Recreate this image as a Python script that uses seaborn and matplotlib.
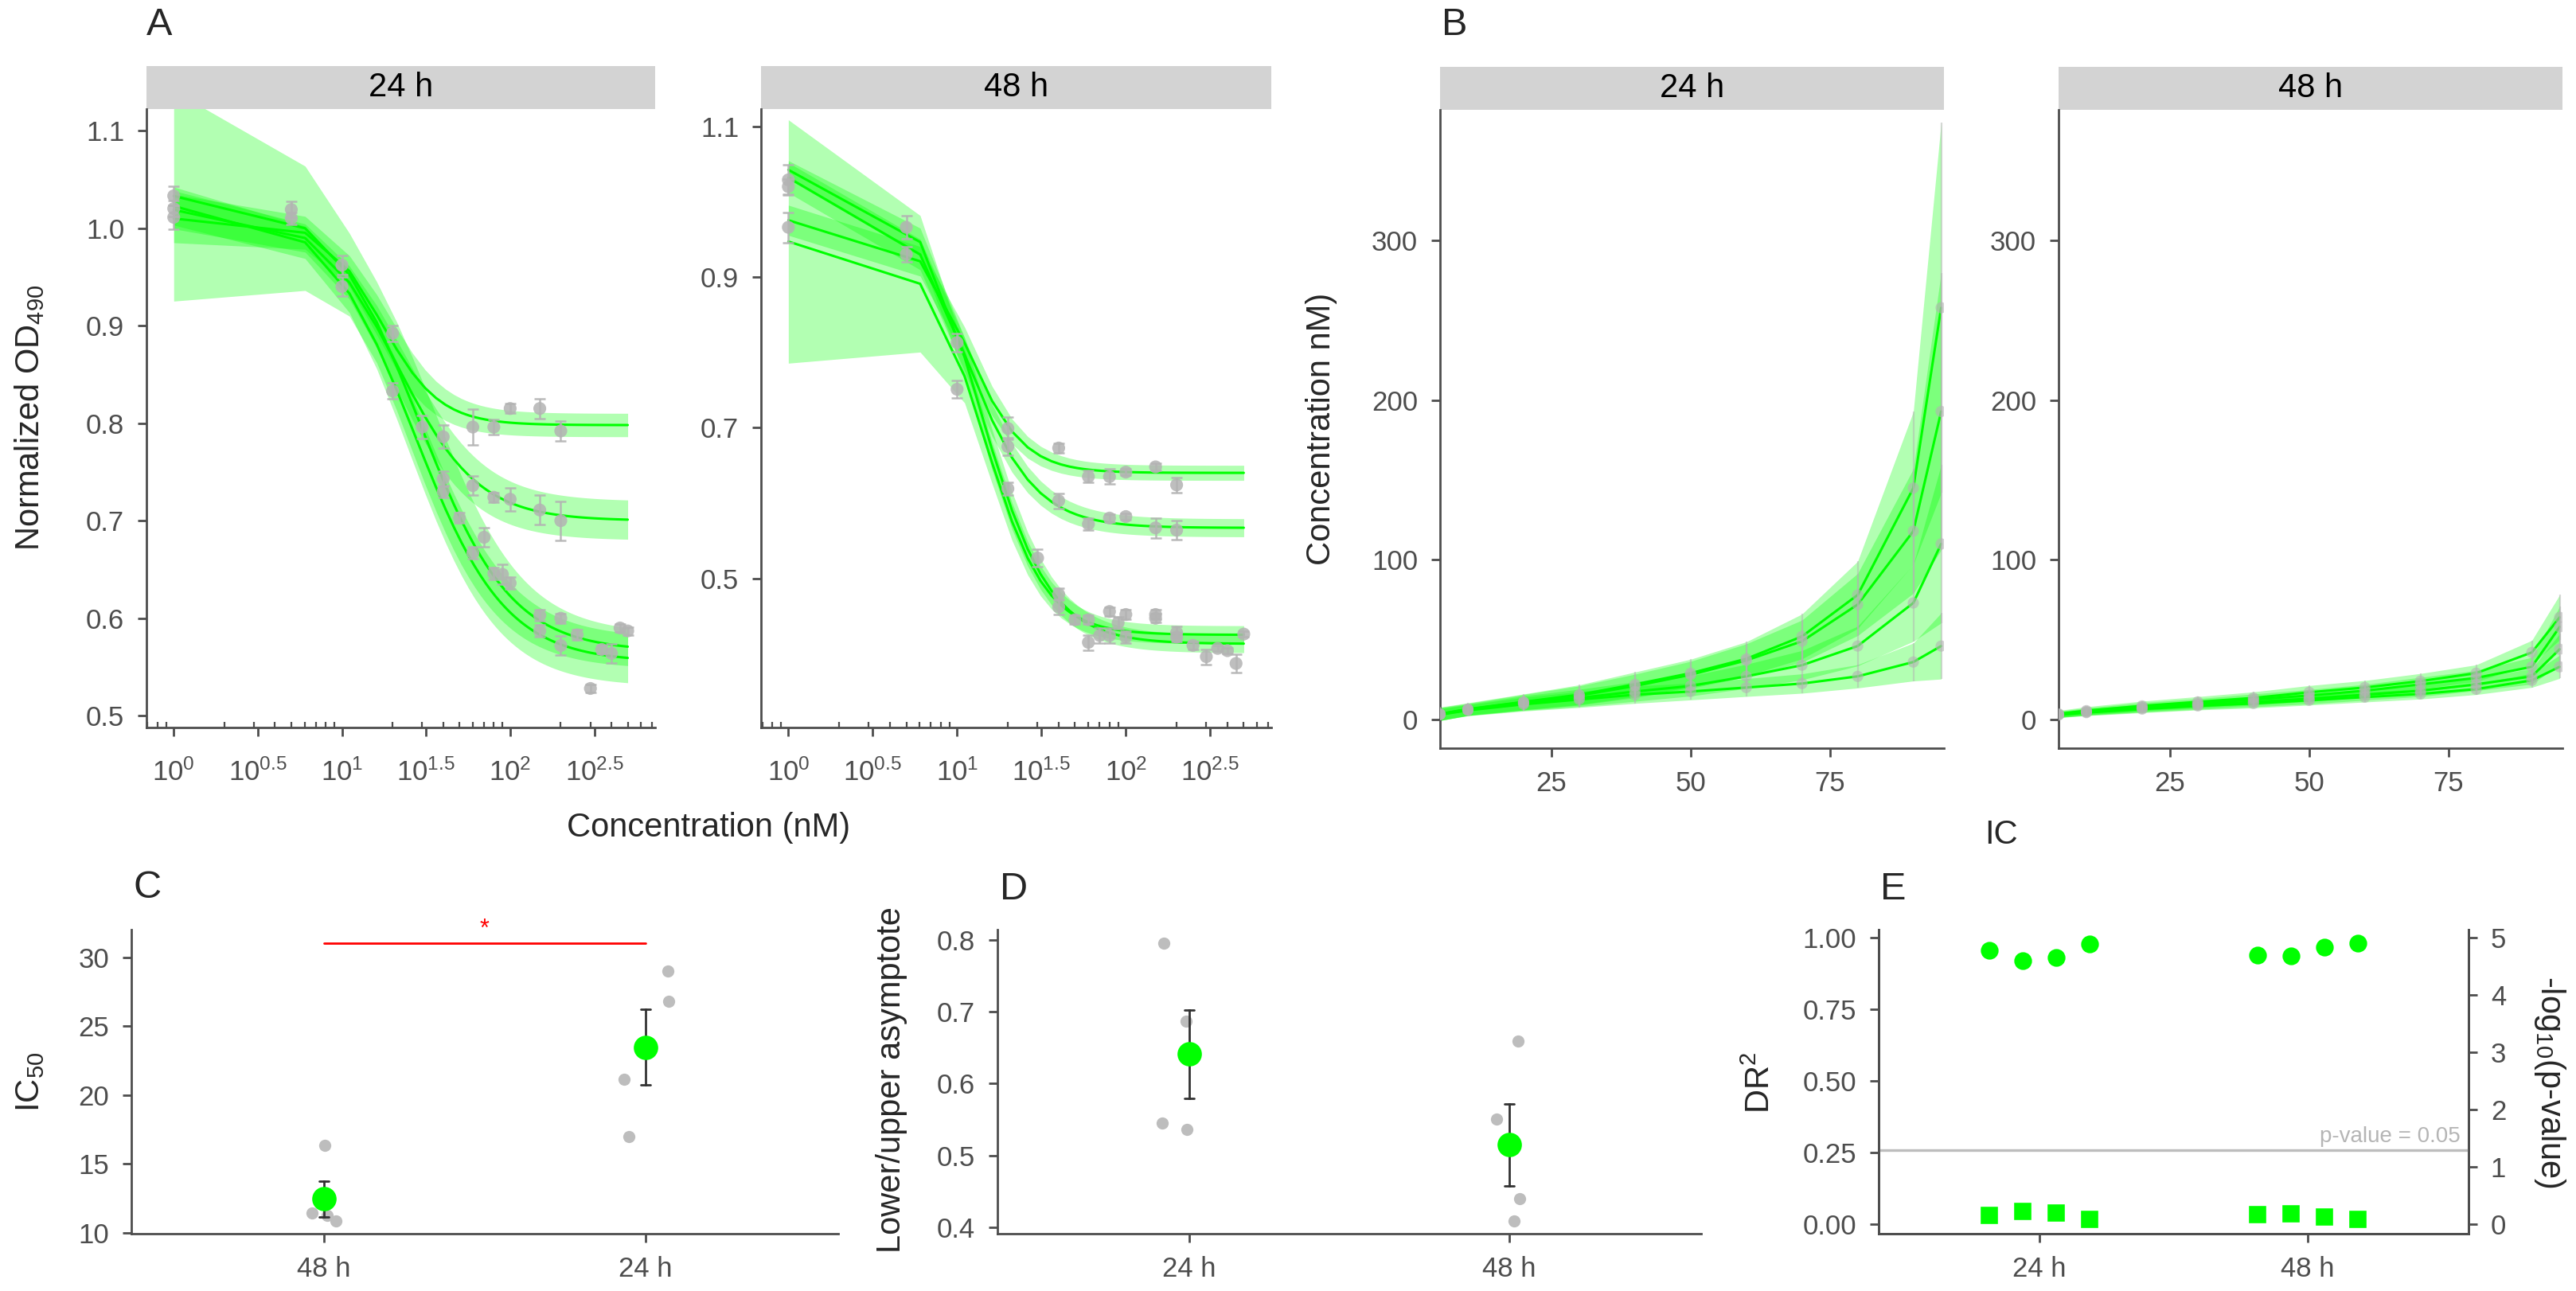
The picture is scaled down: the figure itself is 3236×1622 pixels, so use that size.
import numpy as np
import pandas as pd
import matplotlib
matplotlib.use("Agg")
import matplotlib.pyplot as plt
import seaborn as sns
from matplotlib.patches import Rectangle
from matplotlib.ticker import FixedLocator, LogLocator, NullFormatter

# ------------------------------------------------------------------ data
times = ["24 h", "48 h"]

# A: observed normalized OD490 (mean +/- se) per concentration
conc_24 = [1, 1, 1, 5, 5, 10, 10, 20, 20, 30, 40, 40, 40, 50, 60, 60, 60, 70, 80, 80, 80, 90,
           100, 100, 100, 150, 150, 150, 150, 200, 200, 200, 200, 250, 300, 350, 400, 450, 500]
od_24 = [1.033, 1.011, 1.020, 1.019, 1.010, 0.962, 0.940, 0.892, 0.833, 0.796, 0.786, 0.743,
         0.730, 0.703, 0.796, 0.736, 0.667, 0.683, 0.796, 0.724, 0.646, 0.645, 0.815, 0.722,
         0.636, 0.815, 0.711, 0.603, 0.587, 0.792, 0.700, 0.600, 0.572, 0.583, 0.528, 0.568,
         0.564, 0.590, 0.587]
se_24 = [0.010, 0.012, 0.008, 0.008, 0.006, 0.010, 0.010, 0.008, 0.008, 0.012, 0.012, 0.008,
         0.006, 0.005, 0.018, 0.010, 0.006, 0.010, 0.008, 0.005, 0.006, 0.010, 0.005, 0.012,
         0.006, 0.010, 0.015, 0.006, 0.006, 0.010, 0.020, 0.005, 0.010, 0.005, 0.004, 0.004,
         0.010, 0.004, 0.004]

conc_48 = [1, 1, 1, 5, 5, 10, 10, 20, 20, 20, 30, 40, 40, 40, 40, 50, 60, 60, 60, 60, 70,
           80, 80, 80, 80, 90, 100, 100, 100, 100, 150, 150, 150, 150, 200, 200, 200, 200,
           250, 300, 350, 400, 450, 500]
od_48 = [1.029, 0.966, 1.020, 0.966, 0.930, 0.813, 0.751, 0.699, 0.675, 0.619, 0.527, 0.673,
         0.603, 0.479, 0.462, 0.445, 0.635, 0.572, 0.445, 0.415, 0.424, 0.635, 0.580, 0.456,
         0.424, 0.441, 0.641, 0.582, 0.452, 0.422, 0.648, 0.567, 0.452, 0.447, 0.624, 0.564,
         0.428, 0.422, 0.411, 0.396, 0.407, 0.404, 0.387, 0.426]
se_48 = [0.020, 0.020, 0.010, 0.015, 0.010, 0.012, 0.012, 0.015, 0.012, 0.008, 0.012, 0.006,
         0.010, 0.008, 0.010, 0.006, 0.008, 0.008, 0.006, 0.010, 0.010, 0.010, 0.005, 0.006,
         0.010, 0.008, 0.004, 0.004, 0.006, 0.008, 0.005, 0.013, 0.006, 0.006, 0.010, 0.013,
         0.008, 0.006, 0.005, 0.010, 0.004, 0.004, 0.012, 0.004]

# A: four-parameter log-logistic fits, one per replicate
top_24 = [1.010, 1.020, 1.035, 1.025]
bottom_24 = [0.798, 0.700, 0.566, 0.555]
ec50_24 = [17.0, 21.2, 29.0, 26.8]
hill_24 = [2.5, 1.8, 1.6, 1.6]
top_48 = [0.976, 1.035, 0.948, 1.045]
bottom_48 = [0.640, 0.567, 0.425, 0.413]
ec50_48 = [11.3, 10.9, 14.5, 13.5]
hill_48 = [2.6, 2.1, 2.4, 2.1]

# A: confidence band half-widths (low dose, decay, transition, high dose)
band_lo_24 = [0.025, 0.020, 0.112, 0.020]
band_k_24 = [10, 10, 10, 10]
band_mid_24 = [0.015, 0.015, 0.040, 0.020]
band_hi_24 = [0.012, 0.020, 0.018, 0.025]
band_lo_48 = [0.020, 0.020, 0.163, 0.012]
band_k_48 = [4, 4, 6, 4]
band_mid_48 = [0.015, 0.015, 0.020, 0.020]
band_hi_48 = [0.010, 0.012, 0.012, 0.012]

# B: effective concentrations (nM) by inhibition level
pct = [5, 10, 20, 30, 40, 50, 60, 70, 80, 90, 95]
ed24_r1 = [3.5, 6.5, 11.0, 15.5, 22.0, 29.0, 38.0, 52.0, 78.0, 145.0, 258.0]
ed24_r2 = [3.4, 6.3, 10.8, 15.0, 21.0, 28.0, 37.0, 49.0, 72.0, 118.0, 193.0]
ed24_r3 = [3.2, 6.0, 10.2, 13.5, 17.5, 21.0, 27.0, 34.0, 46.0, 73.0, 110.0]
ed24_r4 = [3.0, 5.7, 9.5, 12.5, 15.5, 17.5, 20.0, 22.5, 27.0, 36.0, 46.0]
ed48_r1 = [3.5, 5.5, 8.5, 11.0, 13.5, 17.0, 20.0, 24.0, 29.0, 42.0, 64.0]
ed48_r2 = [3.2, 5.0, 7.8, 10.0, 12.5, 15.0, 18.0, 22.0, 26.0, 33.0, 58.0]
ed48_r3 = [3.0, 4.6, 7.0, 9.0, 11.0, 13.0, 15.5, 18.0, 22.0, 27.0, 44.0]
ed48_r4 = [2.8, 4.3, 6.5, 8.5, 10.0, 12.0, 14.0, 16.0, 19.0, 24.5, 33.0]
ed_rel_24 = [1.2, 0.6, 0.45, 0.40, 0.35, 0.30, 0.28, 0.27, 0.27, 0.33, 0.45]
ed_rel_48 = [0.6, 0.45, 0.35, 0.30, 0.28, 0.25, 0.22, 0.20, 0.18, 0.18, 0.22]

# C / D / E: per replicate summaries
ic50_48 = [11.25, 10.83, 11.41, 16.35]
ic50_24 = [29.0, 26.78, 21.13, 16.98]
asym_24 = [0.795, 0.687, 0.545, 0.536]
asym_48 = [0.659, 0.550, 0.440, 0.409]
dr2_24 = [0.958, 0.920, 0.933, 0.979]
dr2_48 = [0.940, 0.938, 0.968, 0.981]
nlogp_24 = [0.150, 0.227, 0.190, 0.088]
nlogp_48 = [0.175, 0.180, 0.124, 0.088]

# ------------------------------------------------------------------ style
GREEN = "#00ff00"
GREY = "#b3b3b3"
DARK = "#4d4d4d"

sns.set_theme(style="ticks", rc={
    "axes.edgecolor": DARK, "axes.linewidth": 1.0,
    "xtick.color": DARK, "ytick.color": DARK,
    "xtick.major.size": 4, "ytick.major.size": 4,
    "xtick.major.width": 1.0, "ytick.major.width": 1.0,
    "xtick.labelsize": 12.5, "ytick.labelsize": 12.5,
    "xtick.major.pad": 6, "ytick.major.pad": 6,
})
plt.rcParams["font.family"] = ["Liberation Sans", "DejaVu Sans"]
plt.rcParams["mathtext.fontset"] = "custom"
plt.rcParams["mathtext.rm"] = "Liberation Sans"
plt.rcParams["mathtext.it"] = "Liberation Sans:italic"

W, H, DPI = 3237, 1622, 200
fig = plt.figure(figsize=(W / DPI, H / DPI), dpi=DPI)


def add_ax(x0, y0, x1, y1):
    return fig.add_axes([x0 / W, 1 - y1 / H, (x1 - x0) / W, (y1 - y0) / H])


def ftext(x, y, s, **kw):
    fig.text(x / W, 1 - y / H, s, **kw)


def strip(ax, label, hpx=54):
    bb = ax.get_position()
    h = hpx / (bb.height * H)
    ax.add_patch(Rectangle((0, 1), 1, h, transform=ax.transAxes, clip_on=False,
                           facecolor="#d3d3d3", edgecolor="none"))
    ax.text(0.5, 1 + h / 2, label, transform=ax.transAxes, ha="center", va="center",
            fontsize=15, color="black")


def ll4(x, top, bottom, ec50, hill):
    return bottom + (top - bottom) / (1 + (x / ec50) ** hill)


dose_grid = np.linspace(1, 500, 100)


def dose_panel(ax, conc, od, se, tops, bottoms, ec50s, hills, blo, bk, bmid, bhi, ylim, yticks):
    fits = []
    for i in range(len(tops)):
        y = ll4(dose_grid, tops[i], bottoms[i], ec50s[i], hills[i])
        f = 1 - (y - bottoms[i]) / (tops[i] - bottoms[i])
        hw = bhi[i] * f + bmid[i] * 4 * f * (1 - f) + blo[i] * (1 - f) ** bk[i]
        ax.fill_between(dose_grid, y - hw, y + hw, color=GREEN, alpha=0.3, lw=0)
        fits.append(pd.DataFrame({"conc": dose_grid, "od": y, "rep": i}))
    fits = pd.concat(fits)
    sns.lineplot(data=fits, x="conc", y="od", units="rep", estimator=None, color=GREEN,
                 lw=1.1, ax=ax)
    obs = pd.DataFrame({"conc": conc, "od": od, "se": se})
    ax.errorbar(obs.conc, obs.od, yerr=obs.se, fmt="none", ecolor=GREY, elinewidth=0.9,
                capsize=2.5, capthick=0.9, alpha=0.9, zorder=3)
    sns.scatterplot(data=obs, x="conc", y="od", color=GREY, alpha=0.85, s=34,
                    edgecolor="none", ax=ax, zorder=4)
    ax.set_xscale("log")
    ax.set_xlim(10 ** -0.162, 10 ** 2.862)
    ax.set_ylim(*ylim)
    major = [10 ** e for e in (0, 0.5, 1, 1.5, 2, 2.5)]
    ax.xaxis.set_major_locator(FixedLocator(major))
    ax.set_xticklabels([r"$10^{0}$", r"$10^{0.5}$", r"$10^{1}$", r"$10^{1.5}$",
                        r"$10^{2}$", r"$10^{2.5}$"])
    ax.xaxis.set_minor_locator(LogLocator(base=10, subs=np.arange(2, 10), numticks=20))
    ax.xaxis.set_minor_formatter(NullFormatter())
    ax.tick_params(axis="x", which="major", pad=10)
    ax.tick_params(axis="x", which="minor", direction="in", length=2.5, width=0.8)
    ax.set_yticks(yticks)
    ax.set_yticklabels(["{:.1f}".format(v) for v in yticks])
    ax.set_xlabel("")
    ax.set_ylabel("")
    sns.despine(ax=ax)


def ed_panel(ax, curves, rel):
    rel = np.asarray(rel)
    rows = []
    for i, c in enumerate(curves):
        c = np.asarray(c)
        ax.fill_between(pct, c * (1 - rel), c * (1 + rel), color=GREEN, alpha=0.3, lw=0)
        rows.append(pd.DataFrame({"pct": pct, "ed": c, "err": c * rel, "rep": i}))
    df = pd.concat(rows)
    sns.lineplot(data=df, x="pct", y="ed", units="rep", estimator=None, color=GREEN,
                 lw=1.1, ax=ax)
    ax.errorbar(df.pct, df.ed, yerr=df.err, fmt="none", ecolor=GREY, elinewidth=0.8,
                alpha=0.5, zorder=3)
    sns.scatterplot(data=df, x="pct", y="ed", color=GREY, alpha=0.6, s=26,
                    edgecolor="none", ax=ax, zorder=4)
    ax.set_xlim(5, 95.5)
    ax.set_ylim(-18, 382)
    ax.set_xticks([25, 50, 75])
    ax.set_yticks([0, 100, 200, 300])
    ax.set_xlabel("")
    ax.set_ylabel("")
    sns.despine(ax=ax)


# ------------------------------------------------------------------ A
axA1 = add_ax(184, 137, 823, 914)
dose_panel(axA1, conc_24, od_24, se_24, top_24, bottom_24, ec50_24, hill_24,
           band_lo_24, band_k_24, band_mid_24, band_hi_24,
           (0.488, 1.122), [0.5, 0.6, 0.7, 0.8, 0.9, 1.0, 1.1])
strip(axA1, "24 h")
axA2 = add_ax(956, 137, 1597, 914)
dose_panel(axA2, conc_48, od_48, se_48, top_48, bottom_48, ec50_48, hill_48,
           band_lo_48, band_k_48, band_mid_48, band_hi_48,
           (0.302, 1.123), [0.5, 0.7, 0.9, 1.1])
strip(axA2, "48 h")
ftext(890, 1040, "Concentration (nM)", ha="center", va="center", fontsize=15)
ftext(37, 525, r"Normalized OD$_{490}$", ha="center", va="center", rotation=90, fontsize=15)
ftext(200, 31, "A", ha="center", va="center", fontsize=17.5)

# ------------------------------------------------------------------ B
axB1 = add_ax(1809, 138, 2442, 940)
ed_panel(axB1, [ed24_r1, ed24_r2, ed24_r3, ed24_r4], ed_rel_24)
strip(axB1, "24 h")
axB2 = add_ax(2586, 138, 3219, 940)
ed_panel(axB2, [ed48_r1, ed48_r2, ed48_r3, ed48_r4], ed_rel_48)
strip(axB2, "48 h")
ftext(1660, 539, "Concentration nM)", ha="center", va="center", rotation=90, fontsize=15)
ftext(1827, 31, "B", ha="center", va="center", fontsize=17.5)

# ------------------------------------------------------------------ C
np.random.seed(3)
axC = add_ax(165, 1168, 1053, 1550)
df_c = pd.DataFrame({"time": ["48 h"] * 4 + ["24 h"] * 4, "ic50": ic50_48 + ic50_24})
order_c = ["48 h", "24 h"]
sns.stripplot(data=df_c, x="time", y="ic50", order=order_c, color="#bdbdbd", jitter=0.09,
              size=5.5, ax=axC, zorder=1)
sns.pointplot(data=df_c, x="time", y="ic50", order=order_c, errorbar="se", color=GREEN,
              linestyle="none", markers="o", markersize=9, capsize=0.03,
              err_kws={"color": "#333333", "linewidth": 1.0, "zorder": 2}, ax=axC, zorder=3)
sig_y = 31
axC.plot([0, 1], [sig_y, sig_y], color="red", lw=1.0)
axC.text(0.5, sig_y + 0.15, "*", color="red", ha="center", va="bottom", fontsize=11)
axC.set_xlim(-0.6, 1.6)
axC.set_ylim(9.92, 32.0)
axC.set_yticks([10, 15, 20, 25, 30])
axC.set_xlabel("")
axC.set_ylabel("")
sns.despine(ax=axC)
ftext(38, 1359, r"IC$_{50}$", ha="center", va="center", rotation=90, fontsize=15)
ftext(185, 1116, "C", ha="center", va="center", fontsize=17.5)

# ------------------------------------------------------------------ D
axD = add_ax(1253, 1168, 2137, 1550)
df_d = pd.DataFrame({"time": ["24 h"] * 4 + ["48 h"] * 4, "ratio": asym_24 + asym_48})
sns.stripplot(data=df_d, x="time", y="ratio", order=times, color="#bdbdbd", jitter=0.09,
              size=5.5, ax=axD, zorder=1)
sns.pointplot(data=df_d, x="time", y="ratio", order=times, errorbar="se", color=GREEN,
              linestyle="none", markers="o", markersize=9, capsize=0.03,
              err_kws={"color": "#333333", "linewidth": 1.0, "zorder": 2}, ax=axD, zorder=3)
axD.set_xlim(-0.6, 1.6)
axD.set_ylim(0.391, 0.814)
axD.set_yticks([0.4, 0.5, 0.6, 0.7, 0.8])
axD.set_yticklabels(["0.4", "0.5", "0.6", "0.7", "0.8"])
axD.set_xlabel("")
axD.set_ylabel("")
sns.despine(ax=axD)
ftext(1120, 1357, "Lower/upper asymptote", ha="center", va="center", rotation=90, fontsize=15)
ftext(1274, 1117, "D", ha="center", va="center", fontsize=17.5)

# ------------------------------------------------------------------ E
axE = add_ax(2360, 1168, 3101, 1550)
df_e = pd.DataFrame({"time": ["24 h"] * 4 + ["48 h"] * 4, "rep": [1, 2, 3, 4] * 2,
                     "dr2": dr2_24 + dr2_48, "nlogp": nlogp_24 + nlogp_48})
sns.pointplot(data=df_e, x="time", y="dr2", hue="rep", order=times, dodge=0.375,
              palette=[GREEN] * 4, markers="o", linestyle="none", errorbar=None,
              markersize=6, legend=False, ax=axE)
axE2 = axE.twinx()
sns.pointplot(data=df_e, x="time", y="nlogp", hue="rep", order=times, dodge=0.375,
              palette=[GREEN] * 4, markers="s", linestyle="none", errorbar=None,
              markersize=5.5, legend=False, ax=axE2)
axE2.axhline(-np.log10(0.05), color="#bdbdbd", lw=1.2, zorder=0)
axE2.text(1.57, -np.log10(0.05) + 0.05, "p-value = 0.05", color="#b5b5b5", ha="right",
          va="bottom", fontsize=10)
for a in (axE, axE2):
    a.set_xlim(-0.6, 1.6)
    a.set_xlabel("")
    a.set_ylabel("")
axE.set_ylim(-0.033, 1.029)
axE2.set_ylim(-0.165, 5.145)
axE.set_yticks([0, 0.25, 0.5, 0.75, 1.0])
axE.set_yticklabels(["0.00", "0.25", "0.50", "0.75", "1.00"])
axE2.set_yticks([0, 1, 2, 3, 4, 5])
for a in (axE, axE2):
    a.spines["top"].set_visible(False)
ftext(2212, 1360, r"DR$^2$", ha="center", va="center", rotation=90, fontsize=15)
ftext(3203, 1360, r"-log$_{10}$(p-value)", ha="center", va="center", rotation=-90, fontsize=15)
ftext(2378, 1117, "E", ha="center", va="center", fontsize=17.5)
ftext(2514, 1049, "IC", ha="center", va="center", fontsize=15)

fig.savefig("out.png", dpi=DPI)
